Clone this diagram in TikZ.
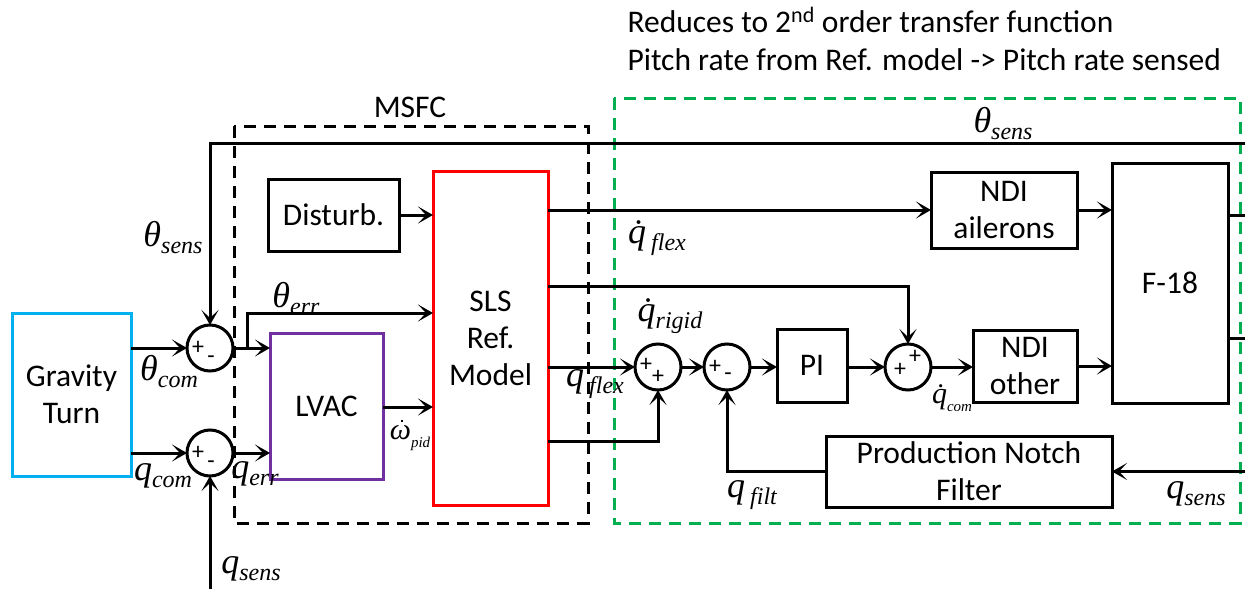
\documentclass[tikz,border=0pt]{standalone}
\usepackage{fontspec}
\setmainfont{Carlito}
\newfontfamily\tms{Liberation Serif}
\usetikzlibrary{arrows.meta,calc}
\newcommand\txtfont{\fontsize{31.5}{37}\selectfont}
\newcommand\signfont{\fontsize{24}{24}\selectfont}
% symbol with subscript
\newcommand\msym[3][0pt]{\mbox{\tms\itshape\fontsize{36}{36}\selectfont #2\hspace{#1}\raisebox{-7pt}{\fontsize{24}{24}\selectfont #3}}}
\newcommand\msmall[2]{\mbox{\tms\itshape\fontsize{30}{30}\selectfont #1\raisebox{-8pt}{\fontsize{15}{15}\selectfont #2}}}
\newcommand\dotw{\ooalign{ω\cr\hidewidth\kern3pt\smash{\raisebox{17pt}{\rule{2.6pt}{2.6pt}}}\hidewidth\cr}}
\definecolor{gtblue}{HTML}{00B0F0}
\definecolor{lvpurple}{HTML}{7030A0}
\definecolor{slsred}{HTML}{FF0000}
\definecolor{grn}{HTML}{00B050}
\begin{document}
\begin{tikzpicture}[x=1pt,y=-1pt,line width=3pt,
  blk/.style={draw,line width=3pt,inner sep=0pt,outer sep=0pt,align=center,font=\txtfont},
  sumj/.style={draw,circle,minimum size=46pt,inner sep=0pt,outer sep=0pt,line width=3pt},
  arr/.style={-{Stealth[length=15pt,width=17pt,inset=8pt]},line width=3pt},
  ln/.style={line width=3pt},
  lbl/.style={inner sep=0pt,font=\txtfont},
  sgn/.style={inner sep=0pt,font=\signfont},
  grp/.style={dash pattern=on 12pt off 8pt,line width=3pt}]
\useasboundingbox (0,0) rectangle (1245,589);

% group frames
\draw[grp,black] (234,126) rectangle (588,523);
\draw[grp,grn] (614,98) rectangle (1240,523);
\node[lbl] (msfc) at (410,107) {MSFC};
\node[lbl,anchor=base west,align=left] (note1) at (626,32) {Reduces to 2\textsuperscript{nd} order transfer function};
\node[lbl,anchor=base west,align=left] (note2) at (626,70) {Pitch rate from Ref. model -> Pitch rate sensed};

% blocks
\node[blk,draw=gtblue,minimum width=119pt,minimum height=163pt] (gt) at (71.5,394.5) {Gravity\\Turn};
\node[blk,minimum width=131pt,minimum height=72pt] (dist) at (333.5,215) {Disturb.};
\node[blk,draw=slsred,minimum width=115pt,minimum height=334pt] (sls) at (490.5,338) {SLS\\Ref.\\Model};
\node[blk,draw=lvpurple,minimum width=113pt,minimum height=146pt] (lvac) at (326.5,406) {LVAC};
\node[blk,minimum width=70pt,minimum height=73pt] (pi) at (812,365.5) {PI};
\node[blk,minimum width=146pt,minimum height=76pt] (ndia) at (1004,210) {NDI\\ailerons};
\node[blk,minimum width=104pt,minimum height=72pt] (ndio) at (1025,366) {NDI\\other};
\node[blk,minimum width=116pt,minimum height=240pt] (f18) at (1170,283) {F-18};
\node[blk,minimum width=286pt,minimum height=71pt] (pnf) at (969,471.5) {Production Notch\\Filter};

% summing junctions
\node[sumj] (s1) at (210,348) {};
\node[sumj] (s2) at (210,453) {};
\node[sumj] (s3) at (658,367) {};
\node[sumj] (s4) at (727,367) {};
\node[sumj] (s5) at (908,367) {};
\node[sgn] (s1p) at ($(s1)+(-12,0)$) {+};
\node[sgn] (s1m) at ($(s1)+(1,12)$) {-};
\node[sgn] (s2p) at ($(s2)+(-12,0)$) {+};
\node[sgn] (s2m) at ($(s2)+(1,12)$) {-};
\node[sgn] (s3p) at ($(s3)+(-12,-2)$) {+};
\node[sgn] (s3q) at ($(s3)+(0,10)$) {+};
\node[sgn] (s4p) at ($(s4)+(-12,0)$) {+};
\node[sgn] (s4m) at ($(s4)+(1,10)$) {-};
\node[sgn] (s5p) at ($(s5)+(-8,3)$) {+};
\node[sgn] (s5q) at ($(s5)+(7,-10)$) {+};

% free ends
\coordinate (thtop) at (1245,143);
\coordinate (qsbot) at (210,589);
\coordinate (qsright) at (1245,471.5);
\coordinate (o1) at (1245,215);
\coordinate (o2) at (1245,338);
\coordinate (b1) at (247,348);

% connectors
\draw[arr] (gt.east |- s1) -- (s1.west);
\draw[arr] (gt.east |- s2) -- (s2.west);
\draw[arr] (thtop) -| (s1.north);
\draw[arr] (qsbot) -- (s2.south);
\draw[arr] (s1.east) -- (lvac.west |- s1);
\draw[arr] (b1) |- (sls.west |- 0,313);
\draw[arr] (s2.east) -- (lvac.west |- s2);
\draw[arr] (dist.east) -- (sls.west |- dist.east);
\draw[arr] (lvac.east |- 0,407) -- (sls.west |- 0,407);
\draw[arr] (sls.east |- ndia.west) -- (ndia.west);
\draw[arr] (sls.east |- 0,286) -| (s5.north);
\draw[arr] (sls.east |- s3) -- (s3.west);
\draw[arr] (sls.east |- 0,441) -| (s3.south);
\draw[arr] (s3.east) -- (s4.west);
\draw[arr] (s4.east) -- (pi.west |- s4);
\draw[arr] (pi.east |- s5) -- (s5.west);
\draw[arr] (s5.east) -- (ndio.west |- s5);
\draw[arr] (ndia.east) -- (f18.west |- ndia.east);
\draw[arr] (ndio.east) -- (f18.west |- ndio.east);
\draw[ln] (f18.east |- o1) -- (o1);
\draw[ln] (f18.east |- o2) -- (o2);
\draw[arr] (qsright) -- (pnf.east);
\draw[arr] (pnf.west) -| (s4.south);

% signal labels
\node[lbl] (l1) at (173,238) {\msym{θ}{sens}};
\node[lbl] (l2) at (169,372) {\msym{θ}{com}};
\node[lbl] (l3) at (163,476) {\msym{q}{com}};
\node[lbl] (l4) at (255,474) {\msym{q}{err}};
\node[lbl] (l5) at (296,299) {\msym{θ}{err}};
\node[lbl] (l6) at (410,438) {\msmall{\dotw}{pid}};
\node[lbl] (l7) at (595,384) {\msym[5pt]{q}{flex}};
\node[lbl] (l8) at (657,238) {\msym[5pt]{q̇}{flex}};
\node[lbl] (l9) at (670,316) {\msym{q̇}{rigid}};
\node[lbl] (l10) at (952,398) {\msmall{q̇}{com}};
\node[lbl] (l11) at (752,495) {\msym[5pt]{q}{filt}};
\node[lbl] (l12) at (1003,124) {\msym{θ}{sens}};
\node[lbl] (l13) at (1196,494) {\msym{q}{sens}};
\node[lbl] (l14) at (251,569) {\msym{q}{sens}};
\end{tikzpicture}
\end{document}
